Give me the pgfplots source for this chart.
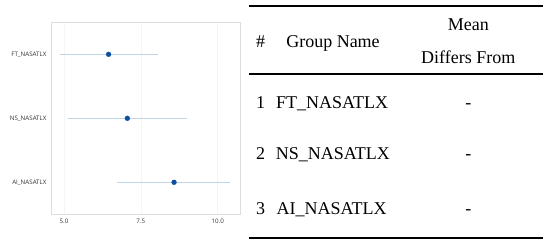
\documentclass[border=0pt]{standalone}
\usepackage{pgfplots}
\pgfplotsset{compat=1.18}
\usepackage{fontspec}
\setmainfont{Liberation Serif}
\newfontfamily\sansf{Open Sans}
\definecolor{ciblue}{HTML}{C0D6E8}
\definecolor{dotblue}{HTML}{0B4F9E}
\definecolor{frame}{HTML}{DDDDDD}
\definecolor{gridc}{HTML}{F5F5F5}
\begin{document}
\begin{tikzpicture}[x=1pt,y=1pt]
\useasboundingbox (0,0) rectangle (550,248);
\begin{axis}[
  at={(51pt,33.7pt)}, anchor=south west,
  scale only axis, width=189pt, height=192pt,
  xmin=4.577, xmax=10.725, ymin=0.5, ymax=3.5,
  y dir=reverse,
  ytick={1,2,3}, yticklabels={FT\_NASATLX,NS\_NASATLX,AI\_NASATLX},
  xtick={5,7.5,10},
  xticklabels={5.0,7.5,10.0},
  tick style={draw=none},
  axis line style={frame, line width=0.8pt},
  xmajorgrids, major grid style={gridc, line width=0.6pt},
  ticklabel style={font=\sansf\fontsize{6.2}{7}\selectfont, text=black!80},
  yticklabel style={xshift=-1pt},
  xticklabel style={yshift=-1pt},
]
\addplot[ciblue, line width=1pt] coordinates {(4.87,1) (8.07,1)};
\addplot[ciblue, line width=1pt] coordinates {(5.14,2) (9.01,2)};
\addplot[ciblue, line width=1pt] coordinates {(6.73,3) (10.40,3)};
\addplot[only marks, mark=*, mark size=2.4pt, dotblue, mark options={draw=dotblue, fill=dotblue}] coordinates {(6.45,1) (7.06,2) (8.58,3)};
\end{axis}
% table
\draw[line width=1.8pt] (249.3,242) -- (542.7,242);
\draw[line width=1.4pt] (249.3,174) -- (542.7,174);
\draw[line width=1.8pt] (249.3,9.7) -- (542.7,9.7);
\begin{scope}[every node/.style={font=\fontsize{18}{20}\selectfont, inner sep=0pt, anchor=base}]
\node at (260.7,200.3) {\#};
\node at (333,200.3) {Group Name};
\node at (468.3,217) {Mean};
\node at (468.3,184.7) {Differs From};
\node at (260.7,139.7) {1};
\node at (260.7,88) {2};
\node at (260.7,33) {3};
\node[anchor=base west] at (276,139.7) {FT\_NASATLX};
\node[anchor=base west] at (275.7,88) {NS\_NASATLX};
\node[anchor=base west] at (276.5,33) {AI\_NASATLX};
\node at (468.3,139.7) {-};
\node at (468.3,88) {-};
\node at (468.3,33) {-};
\end{scope}
\end{tikzpicture}
\end{document}
